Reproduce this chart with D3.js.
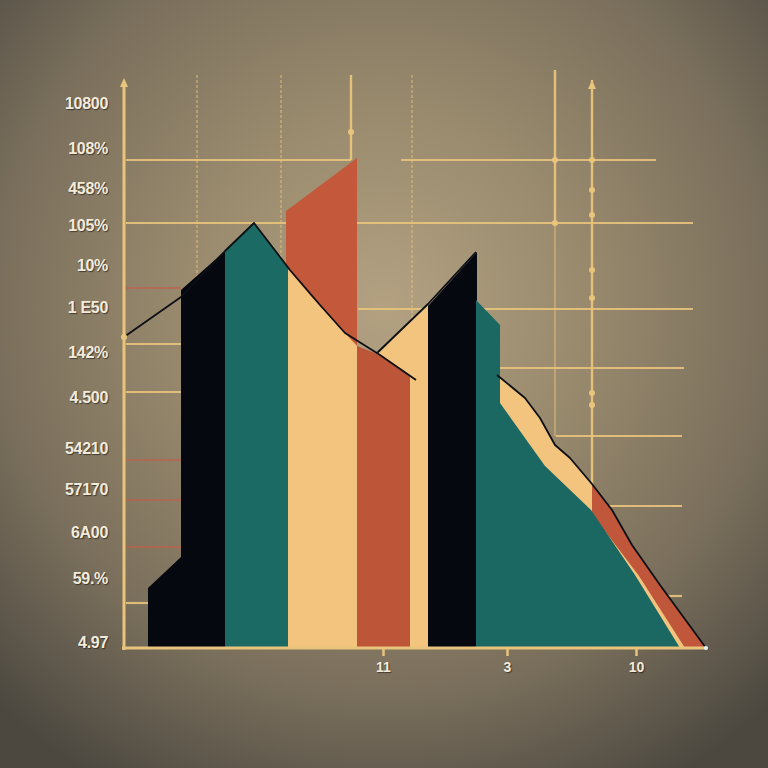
<!DOCTYPE html>
<html><head><meta charset="utf-8">
<script src="https://cdn.jsdelivr.net/npm/d3@7"></script>
<style>html,body{margin:0;padding:0;background:#6e6656;}svg{display:block;}</style>
</head><body>
<script>
// ---- data (chart units) ----
const yTickValues = [54.5, 50.0, 46.0, 42.3, 38.3, 34.1, 29.6, 25.1, 20.0, 15.9, 11.6, 7.0, 0.6];
const yTickLabels = ["10800", "108%", "458%", "105%", "10%", "1 E50", "142%", "4.500", "54210", "57170", "6A00", "59.%", "4.97"];
const xTickValues = [25.9, 38.3, 51.2];
const xTickLabels = ["11", "3", "10"];

const black1 = [[2.4,0],[2.4,6.0],[5.7,9.1],[5.7,35.8],[10.1,39.7],[10.1,0]];
const teal1  = [[10.1,0],[10.1,39.7],[13.0,42.5],[16.5,37.9],[16.5,0]];
const red1   = [[16.2,0],[16.2,43.7],[23.3,49.0],[23.3,0]];
const cream1 = [[16.4,0],[16.4,37.9],[18.6,35.3],[21.1,32.6],[23.3,30.2],[23.3,0]];
const cream2 = [[24.4,0],[24.4,29.2],[25.6,29.6],[30.4,34.4],[30.4,0]];
const red2   = [[23.3,0],[23.3,30.2],[25.6,29.3],[28.6,27.2],[28.6,0]];
const black2 = [[30.4,0],[30.4,34.2],[35.3,39.6],[35.3,0]];
const red3   = [[46.8,0],[46.8,16.4],[48.8,13.8],[50.8,10.3],[53.6,6.3],[58.2,0]];
const cream3 = [[37.6,0],[37.6,27.0],[40.1,25.0],[41.6,23.0],[43.1,20.3],[44.6,19.0],[46.8,16.4],[46.8,13.4],[51.5,7.2],[56.1,0]];
const teal2  = [[35.2,0],[35.2,34.8],[37.6,32.3],[37.6,24.5],[42.1,18.2],[46.7,13.8],[51.1,7.3],[55.6,0]];

const lineA = [[0,31.1],[5.7,35.1],[10.1,39.7],[13.0,42.5],[16.6,37.8],[19.6,34.3],[22.1,31.5],[25.6,29.3],[29.2,26.8]];
const lineB = [[25.3,29.5],[30.4,34.4],[35.2,39.6]];
const lineC = [[37.3,27.3],[40.1,25.0],[41.6,23.0],[43.1,20.3],[44.6,19.0],[46.8,16.4],[48.8,13.8],[50.8,10.3],[53.6,6.3],[58.2,0]];

// grid: [y, x1, x2, kind]
const hGrid = [
  [48.8,0.2,22.7,"c"],[48.8,27.7,53.2,"c"],[42.5,0.2,56.9,"c"],[36.0,0.2,5.7,"r"],
  [33.9,23.4,56.9,"c"],[30.4,0.2,5.7,"c"],[28.0,37.6,56.0,"c"],[25.6,0.2,5.7,"c"],
  [21.2,43.2,55.8,"c"],[18.8,0.2,5.7,"r"],[14.8,0.2,5.7,"r"],[14.2,48.4,55.8,"c"],
  [10.1,0.2,5.7,"r"],[5.2,53.3,55.8,"c"],[4.5,0.2,2.4,"c"]
];
// vertical guides: [x, yTop, yBottom, kind]
const vGrid = [
  [7.3,57.3,0,"dot"],[15.7,57.3,0,"dot"],[28.8,57.3,30,"dot"],
  [22.7,57.3,48.8,"solid"],[43.1,57.8,42.3,"solid"],[43.1,42.3,21.2,"thin"],[46.8,56.8,13.6,"solid"]
];
const vDots = [[22.7,51.6],[43.1,48.8],[43.1,42.5],[46.8,48.8],[46.8,45.8],[46.8,43.3],[46.8,37.8],[46.8,35.0],[46.8,25.5],[46.8,24.3]];

// ---- drawing ----
const W = 768, H = 768;
const svg = d3.select("body").append("svg").attr("width", W).attr("height", H);
const defs = svg.append("defs");
const rg = defs.append("radialGradient").attr("id","bg").attr("cx","50%").attr("cy","40%").attr("r","72%");
[[0,"#b3a182"],[0.35,"#9a8b6e"],[0.7,"#7a6f5c"],[1,"#4c4840"]].forEach(s=>rg.append("stop").attr("offset",s[0]).attr("stop-color",s[1]));
svg.append("rect").attr("width",W).attr("height",H).attr("fill","url(#bg)");

const x = d3.scaleLinear().domain([0,58.2]).range([124,706]);
const y = d3.scaleLinear().domain([0,56.8]).range([648,80]);

const cream = "#e9c47c", redG = "#c0604a";
const g = svg.append("g");

// horizontal grid
g.selectAll("line.h").data(hGrid).join("line")
  .attr("x1",d=>x(d[1])).attr("x2",d=>x(d[2])).attr("y1",d=>y(d[0])).attr("y2",d=>y(d[0]))
  .attr("stroke",d=>d[3]==="r"?redG:cream).attr("stroke-width",d=>d[3]==="r"?1.5:2.2).attr("opacity",0.9);
// vertical guides
g.selectAll("line.v").data(vGrid).join("line")
  .attr("x1",d=>x(d[0])).attr("x2",d=>x(d[0])).attr("y1",d=>y(d[1])).attr("y2",d=>y(d[2]))
  .attr("stroke",cream)
  .attr("stroke-width",d=>d[3]==="solid"?2.4:1.2)
  .attr("stroke-dasharray",d=>d[3]==="dot"?"3,2":null)
  .attr("opacity",d=>d[3]==="solid"?0.95:0.75);
g.selectAll("circle.vd").data(vDots).join("circle")
  .attr("cx",d=>x(d[0])).attr("cy",d=>y(d[1])).attr("r",3).attr("fill",cream);
// arrow on right guide
const arrow = (px,py)=>`M${px-4},${py+9}L${px},${py}L${px+4},${py+9}Z`;
g.append("path").attr("d",arrow(x(46.8),y(56.8))).attr("fill",cream);

// shapes
const poly = d3.line().x(d=>x(d[0])).y(d=>y(d[1]));
const shapes = [
  [red1,"#c4583b"],[black1,"#05080f"],[teal1,"#1b6a63"],[cream1,"#f3c47d"],
  [cream2,"#f3c47d"],[red2,"#bd5539"],[black2,"#05080f"],
  [red3,"#c0573b"],[cream3,"#f3c47d"],[teal2,"#1b6762"]
];
g.selectAll("path.shape").data(shapes).join("path")
  .attr("d",d=>poly(d[0])+"Z").attr("fill",d=>d[1]);

// profile lines
const curve = d3.line().x(d=>x(d[0])).y(d=>y(d[1]));
[lineA,lineB,lineC].forEach(l=>{
  g.append("path").attr("d",curve(l)).attr("fill","none").attr("stroke","#0d1016").attr("stroke-width",1.8).attr("stroke-linejoin","round");
});
g.append("circle").attr("cx",x(0)).attr("cy",y(31.1)).attr("r",3).attr("fill",cream);

// axes
g.append("line").attr("x1",x(0)).attr("x2",x(0)).attr("y1",y(0)+2).attr("y2",y(56.8)+6).attr("stroke",cream).attr("stroke-width",3);
g.append("path").attr("d",arrow(x(0),y(56.8)-2)).attr("fill",cream);
g.append("line").attr("x1",x(0)-2).attr("x2",x(58.2)).attr("y1",y(0)).attr("y2",y(0)).attr("stroke",cream).attr("stroke-width",3);
g.append("circle").attr("cx",x(58.2)).attr("cy",y(0)).attr("r",2).attr("fill","#dff4ff");

const yAxis = d3.axisLeft(y).tickValues(yTickValues).tickFormat((d,i)=>yTickLabels[i]).tickSize(0).tickPadding(0);
const ya = svg.append("g").attr("transform","translate(108,0)").call(yAxis);
ya.select(".domain").remove();
ya.selectAll("text").attr("fill","#f2ebdc").attr("font-family","'Liberation Sans', Arial, sans-serif")
  .attr("font-weight","bold").attr("font-size","16px").attr("letter-spacing","-0.3px")
  .style("text-shadow","1px 1px 1px rgba(0,0,0,0.5)");

const xAxis = d3.axisBottom(x).tickValues(xTickValues).tickFormat((d,i)=>xTickLabels[i]).tickSize(8).tickPadding(6);
const xa = svg.append("g").attr("transform",`translate(0,${y(0)})`).call(xAxis);
xa.select(".domain").remove();
xa.selectAll(".tick line").attr("stroke",cream).attr("stroke-width",2.5);
xa.selectAll("text").attr("fill","#f2ebdc").attr("font-family","'Liberation Sans', Arial, sans-serif")
  .attr("font-weight","bold").attr("font-size","14px")
  .style("text-shadow","1px 1px 1px rgba(0,0,0,0.5)");
</script>
</body></html>
